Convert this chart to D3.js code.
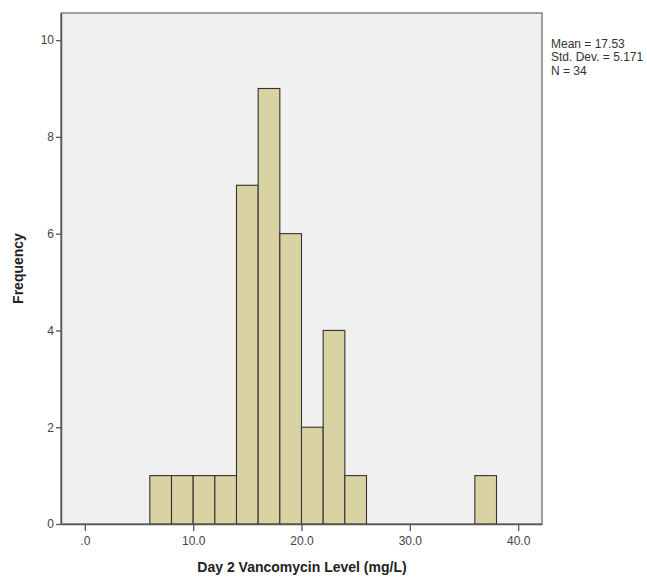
<!DOCTYPE html>
<html>
<head>
<meta charset="utf-8">
<script src="https://cdn.jsdelivr.net/npm/d3@7"></script>
<style>
  body { margin: 0; background: #fff; }
  svg text { font-family: Arial, "Liberation Sans", sans-serif; }
</style>
</head>
<body>
<div id="chart"></div>
<script>
// histogram bins (lower edge, upper edge) and counts
const binStarts = [6, 8, 10, 12, 14, 16, 18, 20, 22, 24, 36];
const binWidth = 2;
const counts = [1, 1, 1, 1, 7, 9, 6, 2, 4, 1, 1];
const xTicks = [0, 10, 20, 30, 40];
const yTicks = [0, 2, 4, 6, 8, 10];
const statsLines = [`Mean = 17.53`, `Std. Dev. = 5.171`, `N = 34`];

const width = 647, height = 578;
const margin = { top: 13, right: 105, bottom: 54, left: 61 };

const svg = d3.select(`#chart`).append(`svg`)
  .attr(`width`, width)
  .attr(`height`, height);

const x = d3.scaleLinear()
  .domain([-2.2, 42.2])
  .range([margin.left, width - margin.right]);

const y = d3.scaleLinear()
  .domain([0, 10.56])
  .range([height - margin.bottom, margin.top]);

// plot background
svg.append(`rect`)
  .attr(`x`, margin.left)
  .attr(`y`, margin.top)
  .attr(`width`, width - margin.left - margin.right)
  .attr(`height`, height - margin.top - margin.bottom)
  .attr(`fill`, `#f0f0f0`)
  .attr(`stroke`, `#666`)
  .attr(`stroke-width`, 1.2);

// bars
svg.selectAll(`.bar`)
  .data(binStarts.map((s, i) => ({ x0: s, x1: s + binWidth, n: counts[i] })))
  .enter().append(`rect`)
    .attr(`class`, `bar`)
    .attr(`x`, (d) => x(d.x0))
    .attr(`y`, (d) => y(d.n))
    .attr(`width`, (d) => x(d.x1) - x(d.x0))
    .attr(`height`, (d) => y(0) - y(d.n))
    .attr(`fill`, `#d9d3a3`)
    .attr(`stroke`, `#333`)
    .attr(`stroke-width`, 1.1);

// axes
const xAxis = svg.append(`g`)
  .attr(`transform`, `translate(0,${height - margin.bottom})`)
  .call(d3.axisBottom(x).tickValues(xTicks).tickSize(7).tickSizeOuter(0).tickPadding(5)
    .tickFormat((d) => d === 0 ? `.0` : d3.format(`.1f`)(d)));

const yAxis = svg.append(`g`)
  .attr(`transform`, `translate(${margin.left},0)`)
  .call(d3.axisLeft(y).tickValues(yTicks).tickSize(5).tickSizeOuter(0).tickPadding(2));

[xAxis, yAxis].forEach((g) => {
  g.select(`.domain`).attr(`stroke`, `#555`).attr(`stroke-width`, 1.5);
  g.selectAll(`.tick line`).attr(`stroke`, `#555`).attr(`stroke-width`, 1.3);
  g.selectAll(`.tick text`)
    .attr(`fill`, `#444`)
    .style(`font-size`, `12px`)
    .style(`font-family`, `Arial, "Liberation Sans", sans-serif`);
});
xAxis.raise();

// axis titles
svg.append(`text`)
  .attr(`x`, 302)
  .attr(`y`, 572)
  .attr(`text-anchor`, `middle`)
  .attr(`font-weight`, `bold`)
  .attr(`font-size`, `14px`)
  .attr(`fill`, `#222`)
  .text(`Day 2 Vancomycin Level (mg/L)`);

svg.append(`text`)
  .attr(`transform`, `translate(23,${(margin.top + height - margin.bottom) / 2}) rotate(-90)`)
  .attr(`text-anchor`, `middle`)
  .attr(`font-weight`, `bold`)
  .attr(`font-size`, `14px`)
  .attr(`fill`, `#222`)
  .text(`Frequency`);

// stats box
svg.append(`g`).selectAll(`text`)
  .data(statsLines)
  .enter().append(`text`)
    .attr(`x`, 551)
    .attr(`y`, (d, i) => 47.5 + i * 13.5)
    .attr(`font-size`, `12px`)
    .attr(`fill`, `#333`)
    .text((d) => d);
</script>
</body>
</html>
